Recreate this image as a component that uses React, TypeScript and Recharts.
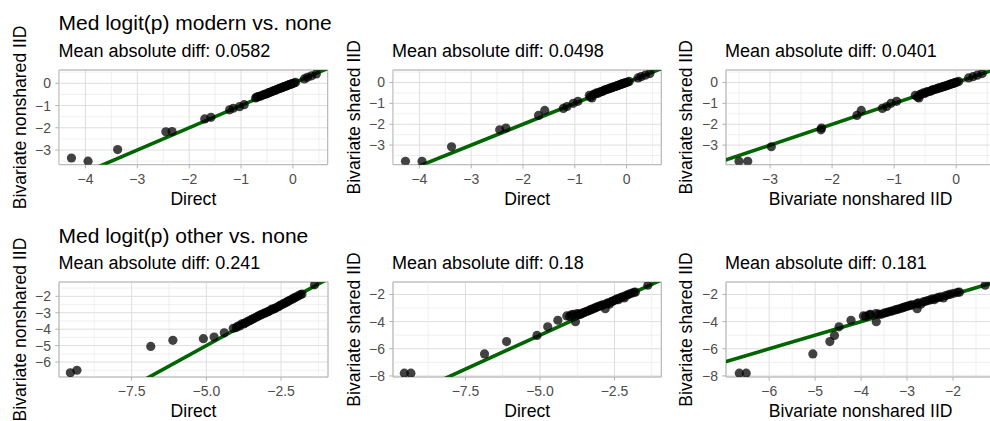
import React from 'react';
import {
  ScatterChart,
  Scatter,
  XAxis,
  YAxis,
  CartesianGrid,
  ReferenceLine,
  ReferenceArea,
  Label,
} from 'recharts';

// Median logit(p), modern vs. none, per area and model
const modernDirect = [
  -4.27, -3.95, -3.38, -2.45, -2.33, -1.7, -1.58, -1.22, -1.15, -1.03, -0.94,
  -0.72, -0.7, -0.67, -0.64, -0.61, -0.58, -0.55, -0.52, -0.49, -0.47, -0.44,
  -0.42, -0.39, -0.37, -0.34, -0.32, -0.3, -0.27, -0.25, -0.23, -0.21, -0.19,
  -0.17, -0.15, -0.13, -0.11, -0.09, -0.07, -0.05, -0.03, -0.01, 0.02, 0.05,
  0.22, 0.28, 0.36, 0.45,
];
const modernNonshared = [
  -3.36, -3.5, -2.98, -2.18, -2.17, -1.6, -1.53, -1.19, -1.12, -1.05, -0.96,
  -0.66, -0.62, -0.6, -0.58, -0.56, -0.53, -0.5, -0.48, -0.46, -0.42, -0.4,
  -0.38, -0.36, -0.33, -0.31, -0.29, -0.27, -0.24, -0.22, -0.21, -0.19, -0.17,
  -0.15, -0.13, -0.12, -0.1, -0.08, -0.06, -0.04, -0.03, -0.01, 0.01, 0.04,
  0.2, 0.27, 0.34, 0.42,
];
const modernShared = [
  -3.78, -3.78, -3.08, -2.27, -2.18, -1.58, -1.34, -1.24, -1.15, -1.0, -0.9,
  -0.62, -0.7, -0.74, -0.57, -0.55, -0.5, -0.52, -0.46, -0.44, -0.43, -0.38,
  -0.36, -0.34, -0.32, -0.3, -0.27, -0.26, -0.23, -0.22, -0.19, -0.18, -0.16,
  -0.15, -0.12, -0.11, -0.09, -0.07, -0.05, -0.04, -0.02, 0.0, 0.02, 0.05,
  0.22, 0.28, 0.35, 0.43,
];

// Median logit(p), other vs. none, per area and model
const otherDirect = [
  -9.55, -9.33, -6.86, -6.12, -5.1, -4.74, -4.4,
  -4.1, -4.0, -3.95, -3.88, -3.81, -3.75, -3.7, -3.64, -3.58, -3.52, -3.47,
  -3.42, -3.37, -3.32, -3.27, -3.22, -3.17, -3.12, -3.07, -3.02, -2.97, -2.92,
  -2.87, -2.81, -2.77, -2.72, -2.67, -2.62, -2.57, -2.52, -2.47, -2.42, -2.37,
  -2.32, -2.27, -2.22, -2.17, -2.12, -2.06, -2.0, -1.93, -1.85, -1.8, -1.38,
];
const otherNonshared = [
  -6.65, -6.5, -5.05, -4.68, -4.58, -4.48, -4.22,
  -3.95, -3.9, -3.82, -3.8, -3.67, -3.68, -3.62, -3.56, -3.5, -3.45, -3.4,
  -3.35, -3.31, -3.26, -3.21, -3.17, -3.12, -3.08, -3.04, -3.0, -2.96, -2.92,
  -2.88, -2.78, -2.79, -2.75, -2.7, -2.65, -2.6, -2.55, -2.5, -2.45, -2.41,
  -2.36, -2.31, -2.26, -2.21, -2.16, -2.1, -2.05, -1.98, -1.9, -1.86, -1.3,
];
const otherShared = [
  -7.8, -7.8, -6.38, -5.47, -5.02, -4.38, -3.9,
  -3.58, -3.62, -3.5, -3.47, -4.0, -3.4, -3.45, -3.46, -3.38, -3.33, -3.28,
  -3.24, -3.2, -3.14, -3.1, -3.05, -3.01, -2.96, -2.91, -2.87, -2.83, -2.79,
  -2.76, -3.05, -2.68, -2.62, -2.72, -2.55, -2.5, -2.45, -2.4, -2.33, -2.38,
  -2.26, -2.21, -2.17, -2.25, -2.08, -2.02, -1.97, -1.91, -1.84, -1.83, -1.32,
];

const rowTitles = ['Med logit(p) modern vs. none', 'Med logit(p) other vs. none'];
const meanAbsDiff = ['0.0582', '0.0498', '0.0401', '0.241', '0.18', '0.181'];

const NAME_DIRECT = 'Direct';
const NAME_NONSHARED = 'Bivariate nonshared IID';
const NAME_SHARED = 'Bivariate shared IID';

// Axis breaks
const modernDirectTicks = [-4, -3, -2, -1, 0];
const modernDirectMinor = [-4.5, -3.5, -2.5, -1.5, -0.5, 0.5];
const modernLogitTicks = [-3, -2, -1, 0];
const modernLogitMinor = [-3.5, -2.5, -1.5, -0.5, 0.5];
const otherDirectTicks = [-7.5, -5, -2.5];
const otherDirectMinor = [-8.75, -6.25, -3.75, -1.25];
const otherNonsharedYTicks = [-6, -5, -4, -3, -2];
const otherNonsharedYMinor = [-6.5, -5.5, -4.5, -3.5, -2.5, -1.5];
const otherSharedTicks = [-8, -6, -4, -2];
const otherSharedMinor = [-7, -5, -3];
const otherNonsharedXTicks = [-6, -5, -4, -3, -2];
const otherNonsharedXMinor = [-6.5, -5.5, -4.5, -3.5, -2.5, -1.5];

// y = x reference line end points
const identityEnds = [-12, 3];

const FONT = '"Liberation Sans", Arial, Helvetica, sans-serif';
const YW = 64; // y-axis band width
const XH = 48; // x-axis band height
const MT = 2; // top/right margin so the panel border is not cut

type Panel = {
  xs: number[];
  ys: number[];
  xName: string;
  yName: string;
  diff: string;
  box: [number, number, number, number];
  xDomain: [number, number];
  yDomain: [number, number];
  xTicks: number[];
  yTicks: number[];
  xMinor: number[];
  yMinor: number[];
  xDecimals: number;
  yTitleOffset: number;
};

const panels: Panel[] = [
  {
    xs: modernDirect, ys: modernNonshared, xName: NAME_DIRECT, yName: NAME_NONSHARED,
    diff: meanAbsDiff[0], box: [59.3, 70, 328, 164.7],
    xDomain: [-4.51, 0.67], yDomain: [-3.66, 0.6],
    xTicks: modernDirectTicks, yTicks: modernLogitTicks,
    xMinor: modernDirectMinor, yMinor: modernLogitMinor, xDecimals: 0, yTitleOffset: -33.3,
  },
  {
    xs: modernDirect, ys: modernShared, xName: NAME_DIRECT, yName: NAME_SHARED,
    diff: meanAbsDiff[1], box: [392.7, 70, 661, 164.7],
    xDomain: [-4.51, 0.67], yDomain: [-3.94, 0.6],
    xTicks: modernDirectTicks, yTicks: modernLogitTicks,
    xMinor: modernDirectMinor, yMinor: modernLogitMinor, xDecimals: 0, yTitleOffset: -32.7,
  },
  {
    xs: modernNonshared, ys: modernShared, xName: NAME_NONSHARED, yName: NAME_SHARED,
    diff: meanAbsDiff[2], box: [725.7, 70, 995, 164.7],
    xDomain: [-3.71, 0.63], yDomain: [-3.94, 0.6],
    xTicks: modernLogitTicks, yTicks: modernLogitTicks,
    xMinor: modernLogitMinor, yMinor: modernLogitMinor, xDecimals: 0, yTitleOffset: -34,
  },
  {
    xs: otherDirect, ys: otherNonshared, xName: NAME_DIRECT, yName: NAME_NONSHARED,
    diff: meanAbsDiff[3], box: [59.3, 281.7, 328.3, 376.7],
    xDomain: [-9.93, -0.93], yDomain: [-6.91, -1.13],
    xTicks: otherDirectTicks, yTicks: otherNonsharedYTicks,
    xMinor: otherDirectMinor, yMinor: otherNonsharedYMinor, xDecimals: 1, yTitleOffset: -33.3,
  },
  {
    xs: otherDirect, ys: otherShared, xName: NAME_DIRECT, yName: NAME_SHARED,
    diff: meanAbsDiff[4], box: [392.7, 281.7, 661, 376.7],
    xDomain: [-9.93, -0.93], yDomain: [-8.08, -1.08],
    xTicks: otherDirectTicks, yTicks: otherSharedTicks,
    xMinor: otherDirectMinor, yMinor: otherSharedMinor, xDecimals: 1, yTitleOffset: -32.7,
  },
  {
    xs: otherNonshared, ys: otherShared, xName: NAME_NONSHARED, yName: NAME_SHARED,
    diff: meanAbsDiff[5], box: [725.7, 281.7, 995, 376.7],
    xDomain: [-6.94, -1.08], yDomain: [-8.08, -1.08],
    xTicks: otherNonsharedXTicks, yTicks: otherSharedTicks,
    xMinor: otherNonsharedXMinor, yMinor: otherSharedMinor, xDecimals: 0, yTitleOffset: -34,
  },
];

const fmt = (decimals: number) => (v: number) =>
  (decimals > 0 ? v.toFixed(decimals) : String(v)).replace('-', '\u2212');

const tickStyle = { fill: '#4D4D4D', fontSize: 14, fontFamily: FONT };

function PanelChart({ p }: { p: Panel }) {
  const [left, top, right, bottom] = p.box;
  const plotW = right - left;
  const plotH = bottom - top;
  const data = p.xs.map((x, i) => ({ x, y: p.ys[i] }));
  return (
    <div
      style={{
        position: 'absolute',
        left: left - YW,
        top: top - MT,
        width: plotW + YW + MT,
        height: plotH + MT + XH,
      }}
    >
      <ScatterChart
        width={plotW + YW + MT}
        height={plotH + MT + XH}
        margin={{ top: MT, right: MT, bottom: 0, left: 0 }}
      >
        <CartesianGrid stroke="#DEDEDE" strokeWidth={1} />
        {p.xMinor.map((v) => (
          <ReferenceLine key={'vx' + v} x={v} stroke="#E6E6E6" strokeWidth={0.6} ifOverflow="hidden" />
        ))}
        {p.yMinor.map((v) => (
          <ReferenceLine key={'hy' + v} y={v} stroke="#E6E6E6" strokeWidth={0.6} ifOverflow="hidden" />
        ))}
        <XAxis
          type="number"
          dataKey="x"
          domain={p.xDomain}
          ticks={p.xTicks}
          allowDataOverflow
          interval={0}
          height={XH}
          axisLine={false}
          tickLine={{ stroke: '#B3B3B3' }}
          tickSize={3.7}
          tickMargin={5.7}
          tick={tickStyle}
          tickFormatter={fmt(p.xDecimals)}
        >
          <Label
            content={(lp: any) => {
              const vb = lp.viewBox ?? { x: YW, y: MT + plotH, width: plotW, height: XH };
              return (
                <text
                  x={vb.x + vb.width / 2}
                  y={vb.y + 40.3}
                  textAnchor="middle"
                  fontSize={17.6}
                  fontFamily={FONT}
                  fill="#000"
                >
                  {p.xName}
                </text>
              );
            }}
          />
        </XAxis>
        <YAxis
          type="number"
          dataKey="y"
          domain={p.yDomain}
          ticks={p.yTicks}
          allowDataOverflow
          interval={0}
          width={YW}
          axisLine={false}
          tickLine={{ stroke: '#B3B3B3' }}
          tickSize={3.7}
          tickMargin={4.3}
          tick={tickStyle}
          tickFormatter={fmt(0)}
        >
          <Label
            content={(lp: any) => {
              const vb = lp.viewBox ?? { x: 0, y: MT, width: YW, height: plotH };
              const cx = vb.x + vb.width + p.yTitleOffset;
              const cy = vb.y + vb.height / 2;
              return (
                <text
                  x={cx}
                  y={cy}
                  transform={`rotate(-90 ${cx} ${cy})`}
                  textAnchor="middle"
                  fontSize={17.6}
                  fontFamily={FONT}
                  fill="#000"
                >
                  {p.yName}
                </text>
              );
            }}
          />
        </YAxis>
        <Scatter
          data={data}
          isAnimationActive={false}
          shape={(sp: any) => (
            <circle cx={sp.cx} cy={sp.cy} r={4.6} fill="#000" fillOpacity={0.74} />
          )}
        />
        <ReferenceLine
          segment={[
            { x: identityEnds[0], y: identityEnds[0] },
            { x: identityEnds[1], y: identityEnds[1] },
          ]}
          stroke="#006400"
          strokeWidth={3.6}
          ifOverflow="hidden"
        />
        <ReferenceArea
          x1={p.xDomain[0]}
          x2={p.xDomain[1]}
          y1={p.yDomain[0]}
          y2={p.yDomain[1]}
          fill="none"
          fillOpacity={0}
          stroke="#B3B3B3"
          strokeWidth={1}
          ifOverflow="visible"
        />
      </ScatterChart>
    </div>
  );
}

export default function App() {
  const titleBaselines = [30, 242.7];
  const subtitleBaselines = [57.3, 269.3];
  return (
    <div
      style={{
        position: 'fixed',
        left: 0,
        top: 0,
        width: 990,
        height: 421,
        overflow: 'hidden',
        background: '#fff',
      }}
    >
      <style>{'.recharts-wrapper, .recharts-surface { overflow: visible !important; }'}</style>
      {panels.map((p, i) => (
        <PanelChart key={i} p={p} />
      ))}
      <svg
        width={990}
        height={421}
        style={{ position: 'absolute', left: 0, top: 0, pointerEvents: 'none' }}
      >
        {rowTitles.map((t, r) => (
          <text
            key={'t' + r}
            x={58.5}
            y={titleBaselines[r]}
            fontSize={21}
            fontFamily={FONT}
            fill="#000"
          >
            {t}
          </text>
        ))}
        {panels.map((p, i) => (
          <text
            key={'s' + i}
            x={p.box[0] - 0.8}
            y={subtitleBaselines[i < 3 ? 0 : 1]}
            fontSize={18}
            fontFamily={FONT}
            fill="#000"
          >
            {'Mean absolute diff: ' + p.diff}
          </text>
        ))}
      </svg>
    </div>
  );
}
